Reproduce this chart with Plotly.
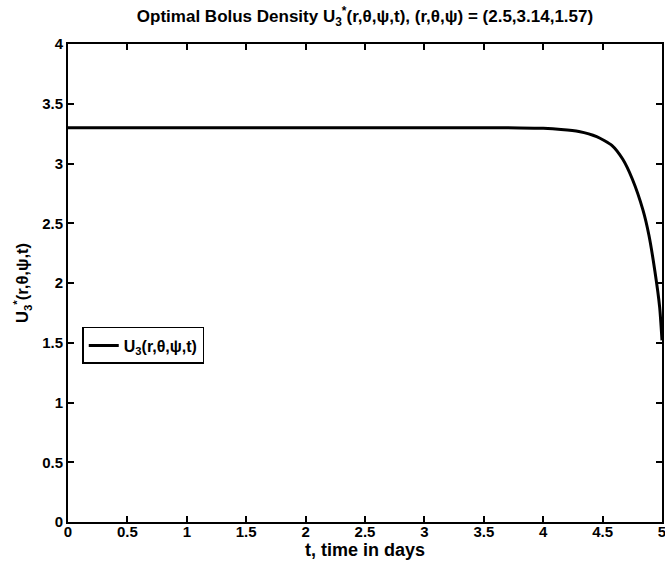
import plotly.graph_objects as go

t_days = [0, 0.5, 1, 1.5, 2, 2.5, 3, 3.5, 3.8, 4.0, 4.15, 4.3, 4.45, 4.58, 4.67, 4.75, 4.84, 4.89, 4.94, 4.98, 5.0]
u3_values = [3.30, 3.30, 3.30, 3.30, 3.30, 3.30, 3.30, 3.30, 3.298, 3.294, 3.285, 3.268, 3.225,
             3.15, 3.035, 2.87, 2.61, 2.40, 2.10, 1.80, 1.52]
x_ticks = [0, 0.5, 1, 1.5, 2, 2.5, 3, 3.5, 4, 4.5, 5]
x_tick_labels = ["0", "0.5", "1", "1.5", "2", "2.5", "3", "3.5", "4", "4.5", "5"]
y_ticks = [0, 0.5, 1, 1.5, 2, 2.5, 3, 3.5, 4]
y_tick_labels = ["0", "0.5", "1", "1.5", "2", "2.5", "3", "3.5", "4"]

FONT = "Liberation Sans, Arial, Helvetica, sans-serif"

fig = go.Figure()
fig.add_trace(go.Scatter(
    x=t_days, y=u3_values, mode="lines",
    line=dict(color="black", width=3, shape="spline", smoothing=0.6),
    name="U<sub>3</sub>(r,θ,ψ,t)",
))

axis_common = dict(
    showgrid=False, zeroline=False, showline=True, linecolor="black", linewidth=2,
    mirror="ticks", ticks="inside", ticklen=6, tickwidth=1.5, tickcolor="black",
    tickfont=dict(family=FONT, size=15, color="black", weight="bold"),
    automargin=False, ticklabeloverflow="allow",
)

fig.update_layout(
    width=665, height=564,
    paper_bgcolor="white", plot_bgcolor="white",
    margin=dict(l=68, r=3, t=44, b=42),
    font=dict(family=FONT, color="black"),
    title=dict(
        text="<b>Optimal Bolus Density U<sub>3</sub><sup>*</sup>(r,θ,ψ,t), (r,θ,ψ) = (2.5,3.14,1.57)</b>",
        xref="paper", x=0.5, xanchor="center", yref="container", y=0.971, yanchor="middle",
        font=dict(family=FONT, size=17, color="black"),
    ),
    xaxis=dict(range=[0, 5], tickmode="array", tickvals=x_ticks, ticktext=x_tick_labels,
               ticklabelstandoff=-5,
               title=dict(text="<b>t, time in days</b>", font=dict(family=FONT, size=18, color="black"), standoff=2),
               **axis_common),
    yaxis=dict(range=[0, 4], tickmode="array", tickvals=y_ticks, ticktext=y_tick_labels,
               ticklabelstandoff=0,
               title=dict(text="<b>U<sub>3</sub><sup>*</sup>(r,θ,ψ,t)</b>", font=dict(family=FONT, size=16.5, color="black"), standoff=9),
               **axis_common),
    showlegend=True,
    legend=dict(
        x=0.024, y=0.408, xanchor="left", yanchor="top",
        bgcolor="white", bordercolor="black", borderwidth=1.5,
        font=dict(family=FONT, size=16, color="black", weight="bold"),
        itemwidth=30, tracegroupgap=0,
    ),
)

# Remove the default page margin so the 665x564 figure fills the window exactly.
fig.write_html(
    "out.html",
    config={"displayModeBar": False},
    post_script="document.body.style.margin='0';document.body.style.overflow='hidden';",
)
